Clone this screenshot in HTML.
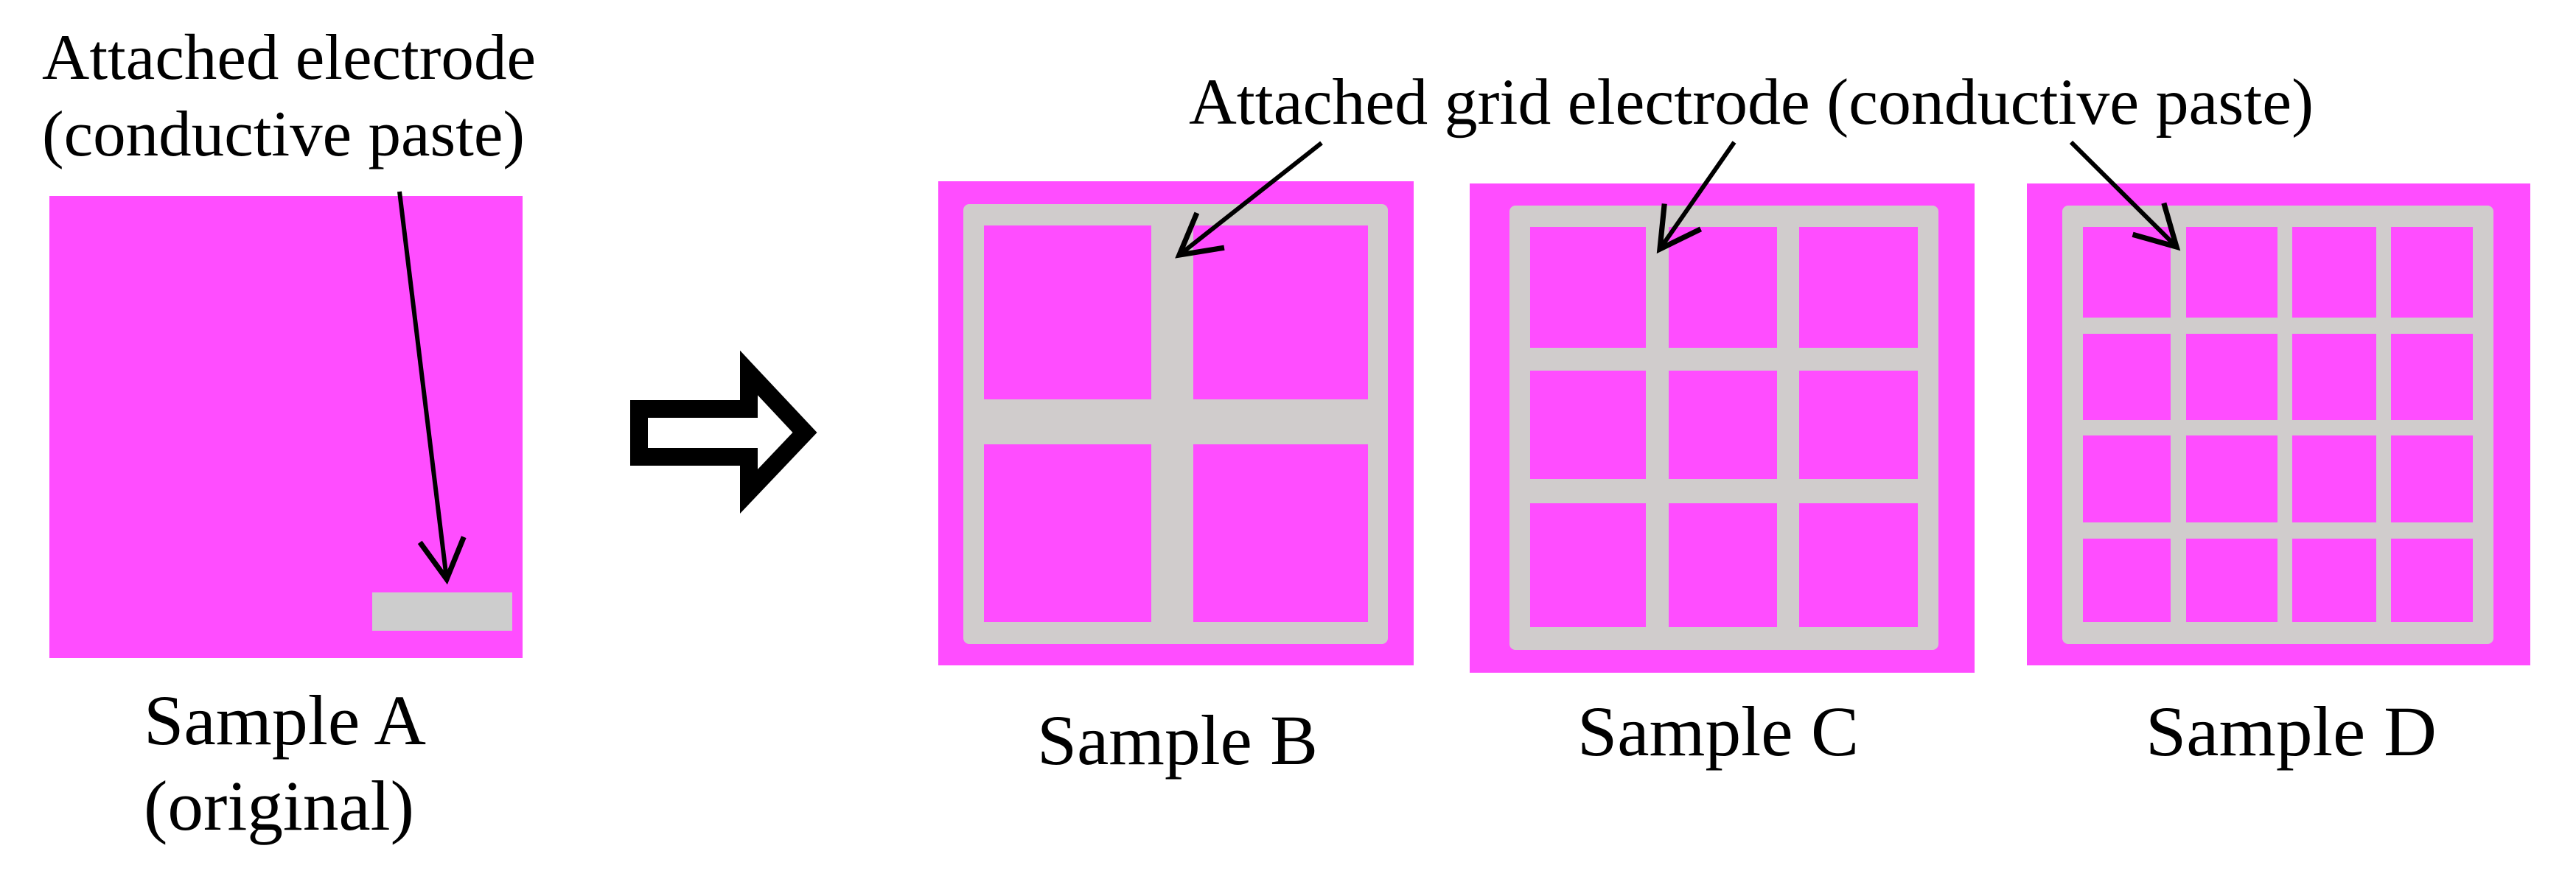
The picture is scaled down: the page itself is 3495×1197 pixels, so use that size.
<!DOCTYPE html>
<html><head><meta charset="utf-8"><style>html,body{margin:0;padding:0;background:#fff}svg{display:block}text{font-family:"Liberation Serif","Times New Roman",serif}</style></head>
<body>
<svg width="3495" height="1197" viewBox="0 0 3495 1197" xmlns="http://www.w3.org/2000/svg" fill="#000">
<defs>
<marker id="ah" markerWidth="12" markerHeight="12" refX="10" refY="6" orient="auto" markerUnits="strokeWidth">
<polyline points="1,1 10,6 1,11" fill="none" stroke="#000" stroke-width="1.2"/>
</marker>
</defs>
<!-- Sample A -->
<rect x="67" y="266" width="642" height="627" fill="#ff4dff"/>
<rect x="505" y="804" width="190" height="52" fill="#cdcdcd"/>
<line x1="542" y1="260" x2="606" y2="786" stroke="#000" stroke-width="6" marker-end="url(#ah)"/>
<text x="57" y="107" font-size="88" textLength="670" lengthAdjust="spacingAndGlyphs">Attached electrode</text>
<text x="57" y="211" font-size="88" textLength="655" lengthAdjust="spacingAndGlyphs">(conductive paste)</text>
<text x="195" y="1010" font-size="96" textLength="383" lengthAdjust="spacingAndGlyphs">Sample A</text>
<text x="195" y="1126" font-size="96" textLength="367" lengthAdjust="spacingAndGlyphs">(original)</text>
<!-- big arrow -->
<polygon points="867,555 1016,555 1016,506 1092,587 1016,667 1016,620 867,620" fill="none" stroke="#000" stroke-width="24"/>
<!-- top label -->
<text x="1613" y="168" font-size="89" textLength="1526" lengthAdjust="spacingAndGlyphs">Attached grid electrode (conductive paste)</text>
<!-- Sample B -->
<rect x="1273" y="246" width="645" height="657" fill="#ff4dff"/>
<rect x="1307" y="277" width="576" height="597" rx="8" fill="#d0cccc"/>
<g fill="#ff4dff">
<rect x="1335" y="306" width="227" height="236"/><rect x="1619" y="306" width="237" height="236"/>
<rect x="1335" y="603" width="227" height="241"/><rect x="1619" y="603" width="237" height="241"/>
</g>
<line x1="1793" y1="194" x2="1600" y2="346" stroke="#000" stroke-width="6" marker-end="url(#ah)"/>
<text x="1407" y="1037" font-size="96" textLength="381" lengthAdjust="spacingAndGlyphs">Sample B</text>
<!-- Sample C -->
<rect x="1994" y="249" width="685" height="664" fill="#ff4dff"/>
<rect x="2048" y="279" width="582" height="603" rx="8" fill="#d0cccc"/>
<g fill="#ff4dff">
<rect x="2076" y="308" width="157" height="164"/><rect x="2264" y="308" width="147" height="164"/><rect x="2441" y="308" width="161" height="164"/>
<rect x="2076" y="503" width="157" height="147"/><rect x="2264" y="503" width="147" height="147"/><rect x="2441" y="503" width="161" height="147"/>
<rect x="2076" y="683" width="157" height="168"/><rect x="2264" y="683" width="147" height="168"/><rect x="2441" y="683" width="161" height="168"/>
</g>
<line x1="2353" y1="193" x2="2252" y2="338" stroke="#000" stroke-width="6" marker-end="url(#ah)"/>
<text x="2140" y="1025" font-size="96" textLength="382" lengthAdjust="spacingAndGlyphs">Sample C</text>
<!-- Sample D -->
<rect x="2750" y="249" width="683" height="654" fill="#ff4dff"/>
<rect x="2798" y="279" width="585" height="595" rx="8" fill="#d0cccc"/>
<g fill="#ff4dff">
<rect x="2826" y="308" width="119" height="123"/><rect x="2966" y="308" width="124" height="123"/><rect x="3110" y="308" width="114" height="123"/><rect x="3244" y="308" width="111" height="123"/>
<rect x="2826" y="453" width="119" height="117"/><rect x="2966" y="453" width="124" height="117"/><rect x="3110" y="453" width="114" height="117"/><rect x="3244" y="453" width="111" height="117"/>
<rect x="2826" y="591" width="119" height="118"/><rect x="2966" y="591" width="124" height="118"/><rect x="3110" y="591" width="114" height="118"/><rect x="3244" y="591" width="111" height="118"/>
<rect x="2826" y="731" width="119" height="113"/><rect x="2966" y="731" width="124" height="113"/><rect x="3110" y="731" width="114" height="113"/><rect x="3244" y="731" width="111" height="113"/>
</g>
<line x1="2810" y1="193" x2="2953" y2="335" stroke="#000" stroke-width="6" marker-end="url(#ah)"/>
<text x="2911" y="1025" font-size="96" textLength="395" lengthAdjust="spacingAndGlyphs">Sample D</text>
</svg>
</body></html>
